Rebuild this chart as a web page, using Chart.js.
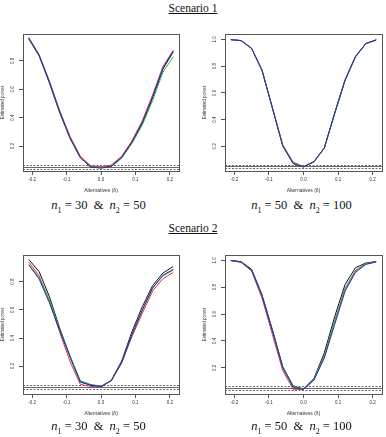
<!DOCTYPE html>
<html>
<head>
<meta charset="utf-8">
<script src="https://cdn.jsdelivr.net/npm/chart.js@4.4.1/dist/chart.umd.min.js"></script>
<style>
  body { margin: 0; background: #fff; }
  #page { position: relative; width: 386px; height: 437px; overflow: hidden; background: #fff; }
  canvas { position: absolute; }
  .scen { position: absolute; left: 0; width: 386px; text-align: center; font-family: "Liberation Serif", serif; font-size: 11.5px; color: #111; }
  .scen span { text-decoration: underline; }
  .cap { position: absolute; width: 193px; text-align: center; font-family: "Liberation Serif", serif; font-size: 12.5px; color: #111; }
  .cap sub { font-size: 8px; }
</style>
</head>
<body>
<div id="page">
  <div class="scen" style="top: 2px;"><span>Scenario 1</span></div>
  <canvas id="p1" width="190" height="170" style="left:0px; top:28px;"></canvas>
  <canvas id="p2" width="184" height="170" style="left:202px; top:28px;"></canvas>
  <div class="cap" style="left:2px; top:198px;"><i>n</i><sub>1</sub> = 30 &nbsp;&amp;&nbsp; <i>n</i><sub>2</sub> = 50</div>
  <div class="cap" style="left:205px; top:198px;"><i>n</i><sub>1</sub> = 50 &nbsp;&amp;&nbsp; <i>n</i><sub>2</sub> = 100</div>

  <div class="scen" style="top: 222px;"><span>Scenario 2</span></div>
  <canvas id="p3" width="190" height="172" style="left:0px; top:249px;"></canvas>
  <canvas id="p4" width="184" height="172" style="left:202px; top:249px;"></canvas>
  <div class="cap" style="left:2px; top:419px;"><i>n</i><sub>1</sub> = 30 &nbsp;&amp;&nbsp; <i>n</i><sub>2</sub> = 50</div>
  <div class="cap" style="left:205px; top:419px;"><i>n</i><sub>1</sub> = 50 &nbsp;&amp;&nbsp; <i>n</i><sub>2</sub> = 100</div>
</div>
<script>
// alternatives (delta) on the x axis
const alternatives = [-0.21, -0.18, -0.15, -0.12, -0.09, -0.06, -0.03, 0, 0.03, 0.06, 0.09, 0.12, 0.15, 0.18, 0.21];
const xTicks = [-0.2, -0.1, 0, 0.1, 0.2];
const refLevels = [0.0365, 0.05, 0.0635];   // nominal level and its band
const seriesColors = ['#111111', '#E0304F', '#22B844', '#2A2AB0'];

// Scenario 1, n1 = 30 & n2 = 50
const s1a_black = [0.960, 0.840, 0.650, 0.440, 0.258, 0.120, 0.054, 0.048, 0.058, 0.120, 0.226, 0.362, 0.540, 0.742, 0.864];
const s1a_red   = [0.966, 0.846, 0.660, 0.450, 0.268, 0.128, 0.060, 0.054, 0.066, 0.128, 0.236, 0.378, 0.560, 0.760, 0.874];
const s1a_green = [0.955, 0.834, 0.642, 0.432, 0.252, 0.116, 0.052, 0.048, 0.054, 0.114, 0.218, 0.348, 0.520, 0.720, 0.830];
const s1a_blue  = [0.958, 0.838, 0.648, 0.438, 0.256, 0.118, 0.052, 0.044, 0.056, 0.120, 0.228, 0.366, 0.545, 0.748, 0.870];

// Scenario 1, n1 = 50 & n2 = 100
const s1b_black = [0.998, 0.990, 0.932, 0.770, 0.488, 0.205, 0.072, 0.046, 0.084, 0.186, 0.446, 0.694, 0.870, 0.968, 0.996];
const s1b_red   = [0.998, 0.991, 0.934, 0.772, 0.492, 0.212, 0.082, 0.048, 0.086, 0.188, 0.450, 0.698, 0.872, 0.969, 0.996];
const s1b_green = [0.998, 0.990, 0.931, 0.768, 0.486, 0.204, 0.074, 0.046, 0.083, 0.184, 0.442, 0.690, 0.866, 0.966, 0.995];
const s1b_blue  = [0.998, 0.990, 0.932, 0.769, 0.487, 0.203, 0.070, 0.045, 0.084, 0.186, 0.446, 0.694, 0.870, 0.968, 0.996];

// Scenario 2, n1 = 30 & n2 = 50
const s2a_black = [0.958, 0.872, 0.694, 0.470, 0.270, 0.090, 0.064, 0.055, 0.100, 0.236, 0.444, 0.622, 0.772, 0.862, 0.908];
const s2a_red   = [0.940, 0.842, 0.665, 0.440, 0.232, 0.070, 0.056, 0.052, 0.100, 0.222, 0.410, 0.574, 0.734, 0.822, 0.866];
const s2a_green = [0.922, 0.830, 0.670, 0.462, 0.272, 0.096, 0.070, 0.058, 0.098, 0.226, 0.426, 0.596, 0.754, 0.842, 0.882];
const s2a_blue  = [0.920, 0.820, 0.650, 0.452, 0.262, 0.086, 0.066, 0.054, 0.096, 0.224, 0.424, 0.598, 0.756, 0.846, 0.888];

// Scenario 2, n1 = 50 & n2 = 100
const s2b_black = [1.000, 0.990, 0.934, 0.745, 0.485, 0.210, 0.066, 0.042, 0.120, 0.310, 0.580, 0.820, 0.945, 0.980, 0.992];
const s2b_red   = [0.998, 0.985, 0.920, 0.720, 0.450, 0.180, 0.040, 0.040, 0.110, 0.285, 0.545, 0.790, 0.925, 0.975, 0.990];
const s2b_green = [0.999, 0.988, 0.930, 0.740, 0.478, 0.205, 0.065, 0.042, 0.112, 0.290, 0.548, 0.785, 0.920, 0.975, 0.990];
const s2b_blue  = [0.999, 0.988, 0.928, 0.738, 0.476, 0.200, 0.055, 0.040, 0.108, 0.272, 0.522, 0.770, 0.910, 0.970, 0.988];

const yTicksA = [0.2, 0.4, 0.6, 0.8];
const yTicksB = [0.2, 0.4, 0.6, 0.8, 1.0];

Chart.defaults.font.family = '"Liberation Sans", Arial, sans-serif';
Chart.defaults.color = '#333';

// horizontal reference lines at the nominal level
const refLinesPlugin = {
    id: 'refLines',
    beforeDatasetsDraw(chart) {
        const { ctx, chartArea, scales } = chart;
        ctx.save();
        ctx.lineWidth = 1;
        ctx.strokeStyle = '#666';
        refLevels.forEach((lv, i) => {
            const py = Math.round(scales.y.getPixelForValue(lv)) + 0.5;
            ctx.setLineDash(i === 1 ? [] : [2, 1.5]);
            ctx.beginPath();
            ctx.moveTo(chartArea.left, py);
            ctx.lineTo(chartArea.right, py);
            ctx.stroke();
        });
        ctx.restore();
    }
};

// R style box round the plot region
const boxPlugin = {
    id: 'box',
    afterDraw(chart) {
        const { ctx, chartArea } = chart;
        ctx.save();
        ctx.lineWidth = 1;
        ctx.strokeStyle = '#555';
        ctx.strokeRect(Math.round(chartArea.left) + 0.5, Math.round(chartArea.top) + 0.5,
            Math.round(chartArea.width), Math.round(chartArea.height));
        ctx.restore();
    }
};

const makePanel = (canvasId, series, yMin, yMax, yTicks, padRight) => {
    const datasets = series.map((vals, i) => ({
        data: alternatives.map((a, k) => ({ x: a, y: vals[k] })),
        borderColor: seriesColors[i],
        borderWidth: 1,
        pointRadius: 0,
        tension: 0,
        fill: false,
        order: series.length - i
    }));

    new Chart(document.getElementById(canvasId).getContext('2d'), {
        type: 'line',
        data: { datasets: datasets },
        options: {
            responsive: false,
            animation: false,
            devicePixelRatio: 1,
            layout: { padding: { top: 6, right: padRight, left: 0, bottom: 0 } },
            plugins: { legend: { display: false }, tooltip: { enabled: false } },
            scales: {
                x: {
                    type: 'linear',
                    min: -0.2268,
                    max: 0.2268,
                    afterBuildTicks: (scale) => { scale.ticks = xTicks.map(v => ({ value: v })); },
                    afterFit: (scale) => { scale.height = 27; },
                    ticks: {
                        font: { size: 4.5 },
                        padding: 2,
                        maxRotation: 0,
                        autoSkip: false,
                        callback: (v) => v.toFixed(1)
                    },
                    grid: { drawOnChartArea: false, drawTicks: true, tickLength: 4, color: '#555' },
                    border: { display: false },
                    title: { display: true, text: 'Alternatives (\u03b4)', font: { size: 5 }, padding: { top: 0, bottom: 4 } }
                },
                y: {
                    type: 'linear',
                    min: yMin,
                    max: yMax,
                    afterBuildTicks: (scale) => { scale.ticks = yTicks.map(v => ({ value: v })); },
                    afterFit: (scale) => { scale.width = 23; },
                    ticks: {
                        font: { size: 4.5 },
                        padding: 3,
                        minRotation: 90,
                        maxRotation: 90,
                        crossAlign: 'center',
                        autoSkip: false,
                        callback: (v) => v.toFixed(1)
                    },
                    grid: { drawOnChartArea: false, drawTicks: true, tickLength: 4, color: '#555' },
                    border: { display: false },
                    title: { display: true, text: 'Estimated power', font: { size: 4.5 }, padding: { top: 0.5, bottom: 1 } }
                }
            }
        },
        plugins: [refLinesPlugin, boxPlugin]
    });
};

makePanel('p1', [s1a_black, s1a_red, s1a_green, s1a_blue], 0.024, 0.99, yTicksA, 11);
makePanel('p2', [s1b_black, s1b_red, s1b_green, s1b_blue], 0.015, 1.04, yTicksB, 4);
makePanel('p3', [s2a_black, s2a_red, s2a_green, s2a_blue], 0.002, 0.99, yTicksA, 11);
makePanel('p4', [s2b_black, s2b_red, s2b_green, s2b_blue], 0.005, 1.04, yTicksB, 4);
</script>
</body>
</html>
